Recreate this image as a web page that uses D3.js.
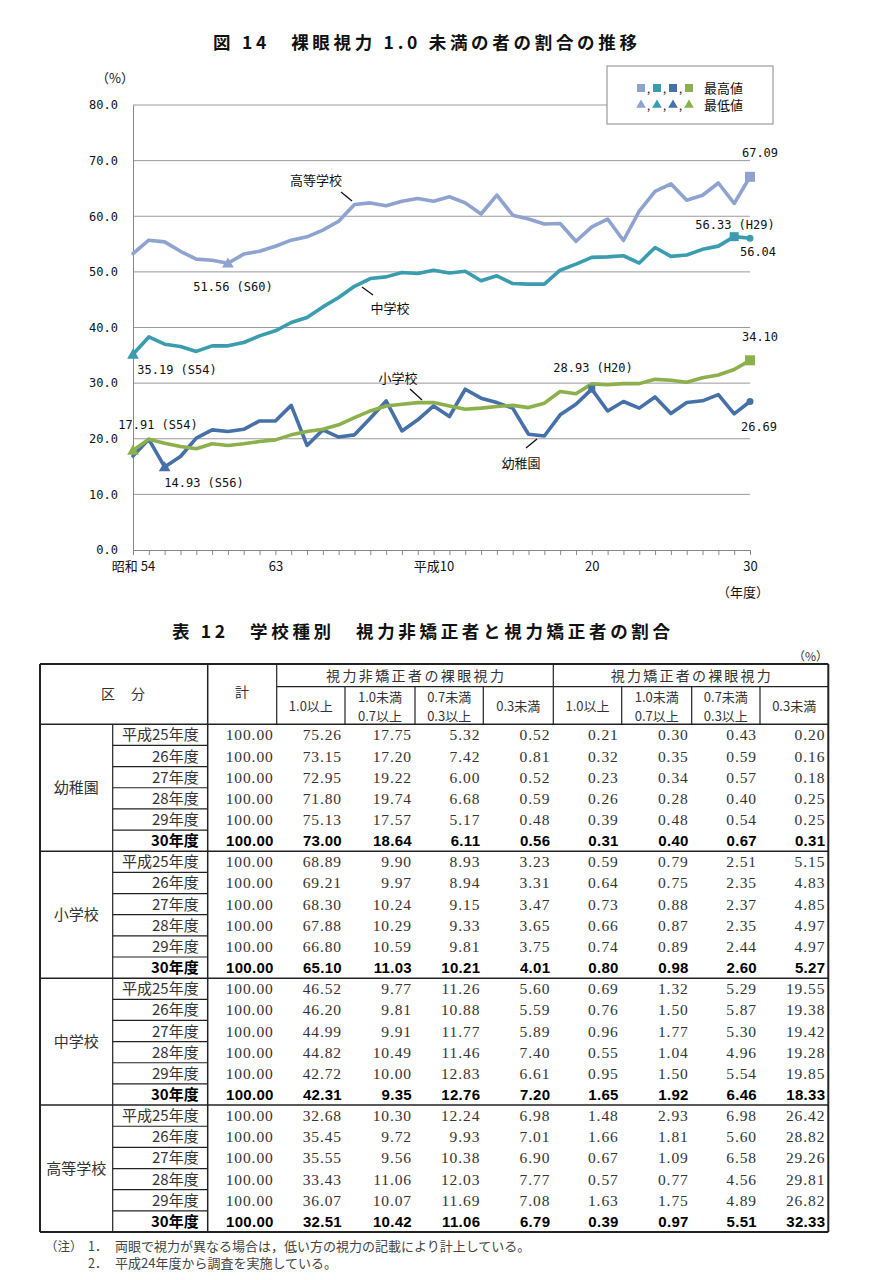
<!DOCTYPE html>
<html><head><meta charset="utf-8">
<script src="https://cdn.jsdelivr.net/npm/d3@7"></script>
<style>body{margin:0;background:#fff}</style>
</head><body><svg id="c" width="869" height="1280" xmlns="http://www.w3.org/2000/svg"></svg>
<script>
// ---------- chart data ----------
const years = ["S54","S55","S56","S57","S58","S59","S60","S61","S62","S63",
  "H1","H2","H3","H4","H5","H6","H7","H8","H9","H10","H11","H12","H13","H14","H15",
  "H16","H17","H18","H19","H20","H21","H22","H23","H24","H25","H26","H27","H28","H29","H30"];
const xTickLabels = {"S54":"昭和 54","S63":"63","H10":"平成10","H20":"20","H30":"30"};
const yTicks = [0,10,20,30,40,50,60,70,80];
const seriesNames = ["高等学校","中学校","幼稚園","小学校"];
const highSchool = [53.3,55.7,55.4,53.7,52.3,52.1,51.56,53.2,53.7,54.6,55.7,56.3,57.5,59.1,62.1,62.4,61.9,62.7,63.2,62.7,
  63.5,62.4,60.4,63.8,60.2,59.5,58.6,58.7,55.5,58.1,59.5,55.64,60.93,64.47,65.84,62.89,63.78,65.98,62.30,67.09];
const juniorHigh = [35.19,38.3,37.0,36.6,35.7,36.7,36.7,37.3,38.5,39.4,40.9,41.8,43.7,45.4,47.4,48.8,49.1,49.9,49.7,50.3,
  49.8,50.1,48.4,49.3,47.9,47.8,47.8,50.3,51.4,52.6,52.7,52.9,51.59,54.38,52.79,53.04,54.05,54.63,56.33,56.04];
const kindergarten = [16.9,19.9,14.93,16.8,20.1,21.6,21.3,21.7,23.2,23.2,26.0,18.8,21.6,20.3,20.7,23.7,26.8,21.4,23.4,25.9,
  24.0,28.9,27.3,26.5,25.5,20.8,20.5,24.3,26.2,28.93,25.0,26.7,25.5,27.52,24.53,26.53,26.82,27.94,24.48,26.69];
const elementary = [17.91,19.9,19.2,18.6,18.2,19.1,18.8,19.1,19.5,19.8,20.7,21.3,21.7,22.5,23.8,25.0,25.9,26.2,26.5,26.5,
  25.9,25.3,25.5,25.8,26.0,25.6,26.4,28.5,28.1,29.87,29.71,29.91,29.91,30.68,30.52,30.15,30.97,31.46,32.46,34.10];
const seriesValues = [highSchool, juniorHigh, kindergarten, elementary];
const seriesColors = ["#8fa3d0","#3a9caf","#4671a8","#8cb04c"];
// extreme points: [series index, year]
const maxPoints = [[0,"H30"],[1,"H29"],[2,"H20"],[3,"H30"]];
const minPoints = [[0,"S60"],[1,"S54"],[2,"S56"],[3,"S54"]];
const endDots = [[1,"H30"],[2,"H30"]];

// ---------- table data ----------
const groupNames = ["幼稚園","小学校","中学校","高等学校"];
const rowYears = ["平成25年度","26年度","27年度","28年度","29年度","30年度"];
const topHeaders = ["視力非矯正者の裸眼視力","視力矯正者の裸眼視力"];
const subHeaders = [["1.0以上"],["1.0未満","0.7以上"],["0.7未満","0.3以上"],["0.3未満"],
                    ["1.0以上"],["1.0未満","0.7以上"],["0.7未満","0.3以上"],["0.3未満"]];
const kinderRows = [
  [100.00,75.26,17.75,5.32,0.52,0.21,0.30,0.43,0.20],
  [100.00,73.15,17.20,7.42,0.81,0.32,0.35,0.59,0.16],
  [100.00,72.95,19.22,6.00,0.52,0.23,0.34,0.57,0.18],
  [100.00,71.80,19.74,6.68,0.59,0.26,0.28,0.40,0.25],
  [100.00,75.13,17.57,5.17,0.48,0.39,0.48,0.54,0.25],
  [100.00,73.00,18.64,6.11,0.56,0.31,0.40,0.67,0.31]];
const elemRows = [
  [100.00,68.89,9.90,8.93,3.23,0.59,0.79,2.51,5.15],
  [100.00,69.21,9.97,8.94,3.31,0.64,0.75,2.35,4.83],
  [100.00,68.30,10.24,9.15,3.47,0.73,0.88,2.37,4.85],
  [100.00,67.88,10.29,9.33,3.65,0.66,0.87,2.35,4.97],
  [100.00,66.80,10.59,9.81,3.75,0.74,0.89,2.44,4.97],
  [100.00,65.10,11.03,10.21,4.01,0.80,0.98,2.60,5.27]];
const juniorRows = [
  [100.00,46.52,9.77,11.26,5.60,0.69,1.32,5.29,19.55],
  [100.00,46.20,9.81,10.88,5.59,0.76,1.50,5.87,19.38],
  [100.00,44.99,9.91,11.77,5.89,0.96,1.77,5.30,19.42],
  [100.00,44.82,10.49,11.46,7.40,0.55,1.04,4.96,19.28],
  [100.00,42.72,10.00,12.83,6.61,0.95,1.50,5.54,19.85],
  [100.00,42.31,9.35,12.76,7.20,1.65,1.92,6.46,18.33]];
const highRows = [
  [100.00,32.68,10.30,12.24,6.98,1.48,2.93,6.98,26.42],
  [100.00,35.45,9.72,9.93,7.01,1.66,1.81,5.60,28.82],
  [100.00,35.55,9.56,10.38,6.90,0.67,1.09,6.58,29.26],
  [100.00,33.43,11.06,12.03,7.77,0.57,0.77,4.56,29.81],
  [100.00,36.07,10.07,11.69,7.08,1.63,1.75,4.89,26.82],
  [100.00,32.51,10.42,11.06,6.79,0.39,0.97,5.51,32.33]];
const groupRows = [kinderRows, elemRows, juniorRows, highRows];
const noteLines = [["（注）","1．","両眼で視力が異なる場合は，低い方の視力の記載により計上している。"],
                   ["","2．","平成24年度から調査を実施している。"]];

// ---------- drawing ----------
const svg = d3.select("#c");
const JP = "'Noto Sans CJK JP','Noto Sans',sans-serif";
const MONO = "'DejaVu Sans Mono',monospace";

svg.append("text").attr("x",425).attr("y",49).attr("text-anchor","middle")
  .attr("textLength",424).attr("lengthAdjust","spacing")
  .style("font-family",JP).style("font-weight","bold").style("font-size","17.5px").attr("fill","#111")
  .text("図 14　裸眼視力 1.0 未満の者の割合の推移");

const x = d3.scalePoint().domain(years).range([133,750]);
const y = d3.scaleLinear().domain([0,80]).range([550,105]);

// grid
svg.append("g").selectAll("line").data(yTicks.filter(v=>v>0)).join("line")
  .attr("x1",133).attr("x2",750).attr("y1",d=>y(d)).attr("y2",d=>y(d))
  .attr("stroke","#9a9a9a").attr("stroke-width",1);

// y axis
const ya = svg.append("g").attr("transform","translate(133,0)")
  .call(d3.axisLeft(y).tickValues(yTicks).tickSize(0).tickSizeOuter(0).tickPadding(15).tickFormat(d3.format(".1f")));
ya.select(".domain").attr("stroke","#888");
ya.selectAll("text").style("font-family",MONO).style("font-size","12px").attr("fill","#111");

// x axis
const xa = svg.append("g").attr("transform","translate(0,550)")
  .call(d3.axisBottom(x).tickSize(5).tickSizeOuter(0).tickPadding(7).tickFormat(d=>xTickLabels[d]||""));
xa.select(".domain").attr("stroke","#888");
xa.selectAll(".tick line").attr("stroke","#888");
xa.selectAll("text").style("font-family",JP).style("font-size","13px").attr("fill","#111");

svg.append("text").attr("x",115).attr("y",83).attr("text-anchor","middle")
  .style("font-family",JP).style("font-size","13px").attr("fill","#111").text("（%）");
svg.append("text").attr("x",743).attr("y",597).attr("text-anchor","middle")
  .style("font-family",JP).style("font-size","13px").attr("fill","#111").text("（年度）");

// lines
const line = d3.line().x((d,i)=>x(years[i])).y(d=>y(d)).curve(d3.curveLinear);
svg.append("g").selectAll("path").data(seriesValues).join("path")
  .attr("d",line).attr("fill","none").attr("stroke",(d,i)=>seriesColors[i])
  .attr("stroke-width",3.6).attr("stroke-linejoin","round").attr("stroke-linecap","round");

// markers
const sqSize = [10,9,7,10];
svg.append("g").selectAll("rect").data(maxPoints).join("rect")
  .attr("x",d=>x(d[1])-sqSize[d[0]]/2)
  .attr("y",d=>y(seriesValues[d[0]][years.indexOf(d[1])])-sqSize[d[0]]/2)
  .attr("width",d=>sqSize[d[0]]).attr("height",d=>sqSize[d[0]])
  .attr("fill",d=>seriesColors[d[0]]);
const tri = d3.symbol().type(d3.symbolTriangle).size(60);
svg.append("g").selectAll("path").data(minPoints).join("path")
  .attr("d",tri)
  .attr("transform",d=>`translate(${x(d[1])},${y(seriesValues[d[0]][years.indexOf(d[1])])+1})`)
  .attr("fill",d=>seriesColors[d[0]]);
svg.append("g").selectAll("circle").data(endDots).join("circle")
  .attr("cx",d=>x(d[1])).attr("cy",d=>y(seriesValues[d[0]][years.indexOf(d[1])])).attr("r",3.5)
  .attr("fill",d=>seriesColors[d[0]]);

// annotations
const annots = [
  {t:"高等学校",x:316,y:185,jp:true},
  {t:"中学校",x:390,y:313,jp:true},
  {t:"小学校",x:398,y:383,jp:true},
  {t:"幼稚園",x:521,y:468,jp:true},
  {t:"51.56 (S60)",x:233,y:291},
  {t:"35.19 (S54)",x:177,y:374},
  {t:"17.91 (S54)",x:158,y:429},
  {t:"14.93 (S56)",x:204,y:487},
  {t:"28.93 (H20)",x:593,y:372},
  {t:"67.09",x:760,y:157},
  {t:"56.33 (H29)",x:735,y:229},
  {t:"56.04",x:758,y:256},
  {t:"34.10",x:760,y:341},
  {t:"26.69",x:759,y:431}];
svg.append("g").selectAll("text").data(annots).join("text")
  .attr("x",d=>d.x).attr("y",d=>d.y).attr("text-anchor","middle")
  .style("font-family",d=>d.jp?JP:MONO).style("font-size",d=>d.jp?"13px":"12px").attr("fill","#111")
  .text(d=>d.t);
const leaders = [[341,192,352,201],[362,287,373,295],[410,389,422,400],[526,448,537,439]];
svg.append("g").selectAll("line").data(leaders).join("line")
  .attr("x1",d=>d[0]).attr("y1",d=>d[1]).attr("x2",d=>d[2]).attr("y2",d=>d[3])
  .attr("stroke","#111").attr("stroke-width",1.3);

// legend
const lg = svg.append("g");
lg.append("rect").attr("x",607).attr("y",66).attr("width",166).attr("height",58)
  .attr("fill","#fff").attr("stroke","#888");
const legRows = [{label:"最高値",y:88,shape:"sq"},{label:"最低値",y:105,shape:"tri"}];
legRows.forEach(r=>{
  seriesColors.forEach((c,i)=>{
    const cx = 641 + i*16;
    if(r.shape==="sq") lg.append("rect").attr("x",cx-4).attr("y",r.y-4).attr("width",8).attr("height",8).attr("fill",c);
    else lg.append("path").attr("d",d3.symbol().type(d3.symbolTriangle).size(40)).attr("transform",`translate(${cx},${r.y})`).attr("fill",c);
    if(i<3) lg.append("text").attr("x",cx+6).attr("y",r.y+5).style("font-family",JP).style("font-size","11px").attr("fill","#111").text(",");
  });
  lg.append("text").attr("x",704).attr("y",r.y+5).style("font-family",JP).style("font-size","13px").attr("fill","#111").text(r.label);
});

// ---------- table ----------
svg.append("text").attr("x",421).attr("y",638).attr("text-anchor","middle")
  .attr("textLength",498).attr("lengthAdjust","spacing")
  .style("font-family",JP).style("font-weight","bold").style("font-size","17.5px").attr("fill","#111")
  .text("表 12　学校種別　視力非矯正者と視力矯正者の割合");
svg.append("text").attr("x",828).attr("y",661).attr("text-anchor","end")
  .style("font-family",JP).style("font-size","12px").attr("fill","#333").text("（%）");

const colX = [40,112.7,207.7,276.7,345,415,483.3,553.3,621.7,691.7,760,828.3];
const hTop = 664, hMid = 686.7, hBot = 724.3, rowH = (1232-724.3)/24;
const tb = svg.append("g");
const ln = (x1,y1,x2,y2,w=1,c="#222")=>tb.append("line").attr("x1",x1).attr("y1",y1).attr("x2",x2).attr("y2",y2).attr("stroke",c).attr("stroke-width",w);
const SERIF = "'Liberation Serif','DejaVu Serif',serif";
const SANSB = "'Liberation Sans',Arial,sans-serif";

// header text
const ht = (t,xx,yy,opt={})=>tb.append("text").attr("x",xx).attr("y",yy).attr("text-anchor",opt.anchor||"middle")
  .style("font-family",opt.font||JP).style("font-size",(opt.size||14)+"px").style("font-weight",opt.bold?"bold":"normal")
  .attr("fill",opt.fill||"#333").text(t);
ht("区",108,699); ht("分",138,699);
ht("計",242,697);
topHeaders.forEach((t,i)=>{
  const a = i===0?colX[3]:colX[7], b = i===0?colX[7]:colX[11];
  tb.append("text").attr("x",(a+b)/2).attr("y",681).attr("text-anchor","middle")
    .attr("textLength",i===0?178:160).attr("lengthAdjust","spacing")
    .style("font-family",JP).style("font-size","14px").attr("fill","#333").text(t);
});
subHeaders.forEach((s,i)=>{
  const cx = (colX[3+i]+colX[4+i])/2;
  if(s.length===1) ht(s[0],cx,711,{size:13});
  else { ht(s[0],cx,702,{size:13}); ht(s[1],cx,721,{size:13}); }
});

// body
groupRows.forEach((rows,g)=>{
  const gy = hBot + g*6*rowH;
  ht(groupNames[g],(colX[0]+colX[1])/2, gy+3*rowH+5,{size:15});
  rows.forEach((r,k)=>{
    const ry = gy + k*rowH;
    const bold = k===5;
    ht(rowYears[k], colX[2]-9, ry+rowH/2+5.5,{anchor:"end",size:15,bold:bold,fill:bold?"#000":"#333"});
    r.forEach((v,j)=>{
      tb.append("text").attr("x",colX[3+j]-3).attr("y",ry+rowH/2+5.5).attr("text-anchor","end")
        .style("font-family",bold?SANSB:SERIF).style("font-size",bold?"15px":"15.5px")
        .style("font-weight",bold?"bold":"normal").style("letter-spacing",bold?"0.3px":"0.9px")
        .attr("fill",bold?"#000":"#333").text(v.toFixed(2));
    });
    if(k>0) ln(colX[1],ry,colX[2],ry,1.2);
  });
  if(g>0) ln(colX[0],gy,colX[11],gy,1.5);
});

// header / frame lines
ln(colX[0],hTop,colX[11],hTop,2);
ln(colX[3],hMid,colX[11],hMid,1.2);
ln(colX[0],hBot,colX[11],hBot,1.5);
ln(colX[0],1232,colX[11],1232,2);
ln(colX[0],hTop,colX[0],1232,2);
ln(colX[11],hTop,colX[11],1232,2);
ln(colX[1],hBot,colX[1],1232,1.2);
ln(colX[2],hTop,colX[2],1232,1.5);
ln(colX[3],hTop,colX[3],hBot,1.2);
ln(colX[7],hTop,colX[7],hBot,1.2);
[4,5,6,8,9,10].forEach(i=>ln(colX[i],hMid,colX[i],hBot,1.2));

// notes
noteLines.forEach((n,i)=>{
  const yy = 1251 + i*17;
  ht(n[0],45,yy,{anchor:"start",size:12.5,fill:"#444"});
  ht(n[1],88,yy,{anchor:"start",size:12.5,fill:"#444"});
  ht(n[2],115,yy,{anchor:"start",size:13,fill:"#444"});
});
</script></body></html>
